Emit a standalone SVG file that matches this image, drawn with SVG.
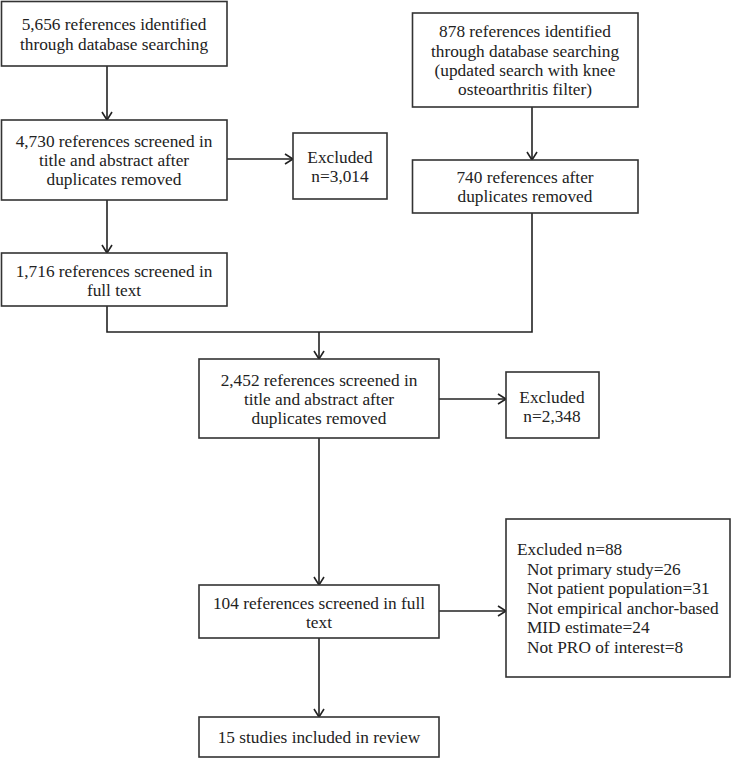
<svg xmlns="http://www.w3.org/2000/svg" width="732" height="758" viewBox="0 0 732 758">
<defs>
<style>
.box{fill:#fff;stroke:#333;stroke-width:1.6}
.t{font-family:"Liberation Serif","Times New Roman",serif;font-size:17.3px;fill:#222;text-anchor:middle}
.tl{font-family:"Liberation Serif","Times New Roman",serif;font-size:17.3px;fill:#222}
.c{fill:none;stroke:#222;stroke-width:1.6}
</style>
<marker id="ah" markerUnits="userSpaceOnUse" markerWidth="12" markerHeight="12" refX="9" refY="6" orient="auto">
<path d="M1,1 L9,6 L1,11" fill="none" stroke="#222" stroke-width="1.6"/>
</marker>
</defs>
<rect width="732" height="758" fill="#fff"/>
<g id="connectors">
<line class="c" x1="107" y1="66" x2="107" y2="120" marker-end="url(#ah)"/>
<line class="c" x1="227" y1="159" x2="293" y2="159" marker-end="url(#ah)"/>
<line class="c" x1="107" y1="200" x2="107" y2="253" marker-end="url(#ah)"/>
<line class="c" x1="532" y1="107" x2="532" y2="160" marker-end="url(#ah)"/>
<path class="c" d="M107,306 V332 H532 V213"/>
<line class="c" x1="319" y1="332" x2="319" y2="359" marker-end="url(#ah)"/>
<line class="c" x1="439" y1="399" x2="506" y2="399" marker-end="url(#ah)"/>
<line class="c" x1="319" y1="438" x2="319" y2="585" marker-end="url(#ah)"/>
<line class="c" x1="439" y1="611" x2="506" y2="611" marker-end="url(#ah)"/>
<line class="c" x1="319" y1="638" x2="319" y2="717" marker-end="url(#ah)"/>
</g>
<g id="nodeA">
<rect class="box" x="1.5" y="1.5" width="225.5" height="64.5"/>
<text class="t" x="114" y="30">5,656 references identified</text>
<text class="t" x="114" y="50">through database searching</text>
</g>
<g id="nodeB">
<rect class="box" x="1.5" y="120" width="225.5" height="80"/>
<text class="t" x="114" y="147">4,730 references screened in</text>
<text class="t" x="114" y="166">title and abstract after</text>
<text class="t" x="114" y="185">duplicates removed</text>
</g>
<g id="excl1">
<rect class="box" x="293" y="133" width="94" height="66"/>
<text class="t" x="340" y="163">Excluded</text>
<text class="t" x="340" y="182">n=3,014</text>
</g>
<g id="nodeC">
<rect class="box" x="1.5" y="253" width="225.5" height="53"/>
<text class="t" x="114" y="277">1,716 references screened in</text>
<text class="t" x="114" y="296">full text</text>
</g>
<g id="nodeD">
<rect class="box" x="412.5" y="13" width="225.5" height="94"/>
<text class="t" x="525" y="37">878 references identified</text>
<text class="t" x="525" y="57">through database searching</text>
<text class="t" x="525" y="76">(updated search with knee</text>
<text class="t" x="525" y="95">osteoarthritis filter)</text>
</g>
<g id="nodeE">
<rect class="box" x="412.5" y="160" width="225.5" height="53"/>
<text class="t" x="525" y="183">740 references after</text>
<text class="t" x="525" y="202">duplicates removed</text>
</g>
<g id="nodeF">
<rect class="box" x="199" y="359" width="240" height="79"/>
<text class="t" x="319" y="386">2,452 references screened in</text>
<text class="t" x="319" y="405">title and abstract after</text>
<text class="t" x="319" y="424">duplicates removed</text>
</g>
<g id="excl2">
<rect class="box" x="506" y="372" width="93" height="66"/>
<text class="t" x="552" y="403">Excluded</text>
<text class="t" x="552" y="422">n=2,348</text>
</g>
<g id="nodeG">
<rect class="box" x="199" y="585" width="240" height="53"/>
<text class="t" x="319" y="609">104 references screened in full</text>
<text class="t" x="319" y="628">text</text>
</g>
<g id="excl3">
<rect class="box" x="506" y="519" width="224" height="158"/>
<text class="tl" x="517" y="555">Excluded n=88</text>
<text class="tl" x="527" y="575">Not primary study=26</text>
<text class="tl" x="527" y="594">Not patient population=31</text>
<text class="tl" x="527" y="614">Not empirical anchor-based</text>
<text class="tl" x="527" y="633">MID estimate=24</text>
<text class="tl" x="527" y="653">Not PRO of interest=8</text>
</g>
<g id="nodeH">
<rect class="box" x="199" y="717" width="240" height="40"/>
<text class="t" x="319" y="743">15 studies included in review</text>
</g>
</svg>
